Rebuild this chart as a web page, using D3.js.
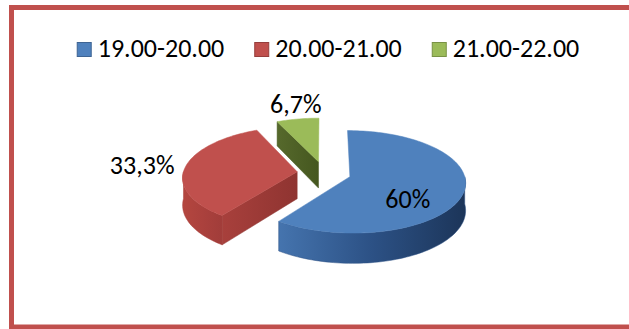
<!DOCTYPE html>
<meta charset="utf-8">
<style>
body { margin: 0; background: #fff; }
text { font-family: Calibri, Carlito, "Liberation Sans", Arial, sans-serif; fill: #000; }
</style>
<body>
<svg width="629" height="329"></svg>
<script src="https://cdnjs.cloudflare.com/ajax/libs/d3/7.8.5/d3.min.js"></script>
<script>
// data
var categories = ["19.00-20.00", "20.00-21.00", "21.00-22.00"];
var values = [60, 33.3, 6.7];
var labels = ["60%", "33,3%", "6,7%"];

var topColors = ["#4f81bd", "#c0504d", "#9bbb59"];
var wallColors = [["#4574ae", "#2c5185", "#1c3559"], ["#b4463f", "#ab413d", "#a13d3a"], ["#55692b", "#4f6228", "#475a22"]];
var cutColors = [["#3d679c", "#2d4f7c"], ["#a8403c", "#8f3431"], ["#56692c", "#45571f"]];

var color = d3.scaleOrdinal(categories, topColors);

var svg = d3.select("svg");
var defs = svg.append("defs");

// frame
svg.append("rect")
  .attr("x", 11.5).attr("y", 7.5)
  .attr("width", 700).attr("height", 319.5)
  .attr("fill", "#fff")
  .attr("stroke", "#c0504d")
  .attr("stroke-width", 5);

// fake 3d projection of the pie
var cx = 324, cy = 173, rx = 114, ry = 50, thick = 27, persp = 0.1, explode = 0.237;

function project(X, Z, Y) {
  var s = 1 / (1 + persp * Z);
  return [cx + X * rx * s, cy + (-Z * ry + Y) * s];
}

function steps(a, b) {
  var n = Math.max(2, Math.ceil(Math.abs(b - a) / 0.03));
  return d3.range(n + 1).map(function(i) { return a + (b - a) * i / n; });
}

var line = d3.line().curve(d3.curveLinearClosed);

var arcs = d3.pie().sort(null)(values);
arcs.forEach(function(d, i) {
  var mid = (d.startAngle + d.endAngle) / 2;
  d.i = i;
  d.mid = mid;
  d.ax = explode * Math.sin(mid);
  d.az = explode * Math.cos(mid);
});

function rim(d, t, Y) {
  return project(d.ax + Math.sin(t), d.az + Math.cos(t), Y);
}

function grad(id, stops) {
  var g = defs.append("linearGradient").attr("id", id)
    .attr("x1", 0).attr("y1", 0).attr("x2", 1).attr("y2", 0);
  stops.forEach(function(c, k) {
    g.append("stop").attr("offset", k / (stops.length - 1)).attr("stop-color", c);
  });
  return "url(#" + id + ")";
}

var pieG = svg.append("g");

// back slices first
arcs.slice().sort(function(a, b) { return b.az - a.az; }).forEach(function(d) {
  var g = pieG.append("g");
  var a0 = d.startAngle, a1 = d.endAngle;
  var apexTop = project(d.ax, d.az, 0), apexBot = project(d.ax, d.az, thick);

  // cut faces
  if (Math.sin(a0) < -1e-6) {
    g.append("path")
      .attr("d", line([apexTop, rim(d, a0, 0), rim(d, a0, thick), apexBot]))
      .attr("fill", grad("cut" + d.i, cutColors[d.i]))
      .attr("stroke", cutColors[d.i][1]).attr("stroke-width", 0.5);
  }
  if (Math.sin(a1) > 1e-6) {
    g.append("path")
      .attr("d", line([apexTop, rim(d, a1, 0), rim(d, a1, thick), apexBot]))
      .attr("fill", grad("cutb" + d.i, cutColors[d.i]))
      .attr("stroke", cutColors[d.i][1]).attr("stroke-width", 0.5);
  }

  // outer wall, front half only
  var t0 = Math.max(a0, Math.PI / 2), t1 = Math.min(a1, 3 * Math.PI / 2);
  if (t1 > t0) {
    var ts = steps(t0, t1);
    var pts = ts.map(function(t) { return rim(d, t, 0); })
      .concat(ts.slice().reverse().map(function(t) { return rim(d, t, thick); }));
    g.append("path")
      .attr("d", line(pts))
      .attr("fill", grad("wall" + d.i, wallColors[d.i]))
      .attr("stroke", wallColors[d.i][1]).attr("stroke-width", 0.5);
  }

  // top face
  var top = [apexTop].concat(steps(a0, a1).map(function(t) { return rim(d, t, 0); }));
  g.append("path")
    .attr("d", line(top))
    .attr("fill", color(categories[d.i]))
    .attr("stroke", color(categories[d.i])).attr("stroke-width", 0.5);
});

// data labels
arcs.forEach(function(d) {
  var sx = Math.sin(d.mid), cz = Math.cos(d.mid);
  var t = svg.append("text").attr("font-size", 26).text(labels[d.i]);
  if (d.i === 0) {
    // inside label, half way down the slice
    var p = project(d.ax + 0.5 * sx, d.az + 0.5 * cz, thick / 2);
    t.attr("x", p[0] + 2).attr("y", p[1]).attr("dy", "0.35em").attr("text-anchor", "middle");
  } else {
    var q = project(d.ax + 1.1 * sx, d.az + 1.1 * cz, 0);
    var anchor = sx < -0.5 ? "end" : (sx > 0.5 ? "start" : "middle");
    var dy = cz > 0.5 ? "-0.1em" : (cz < -0.5 ? "0.8em" : "0.3em");
    t.attr("x", q[0]).attr("y", q[1]).attr("dy", dy).attr("text-anchor", anchor);
  }
});

// legend
var legend = svg.append("g");
var lx = 0;
categories.forEach(function(c, i) {
  var item = legend.append("g").attr("transform", "translate(" + lx + ",0)");
  item.append("rect")
    .attr("x", 0.5).attr("y", 42.5).attr("width", 14).attr("height", 14)
    .attr("fill", color(c))
    .attr("stroke", d3.color(color(c)).darker(0.7));
  var tx = item.append("text")
    .attr("x", 21).attr("y", 57)
    .attr("font-size", 26)
    .text(c);
  lx += 21 + tx.node().getComputedTextLength() + 30;
});
var lw = lx - 30;
legend.attr("transform", "translate(" + (328 - lw / 2) + ",0)");
</script>
